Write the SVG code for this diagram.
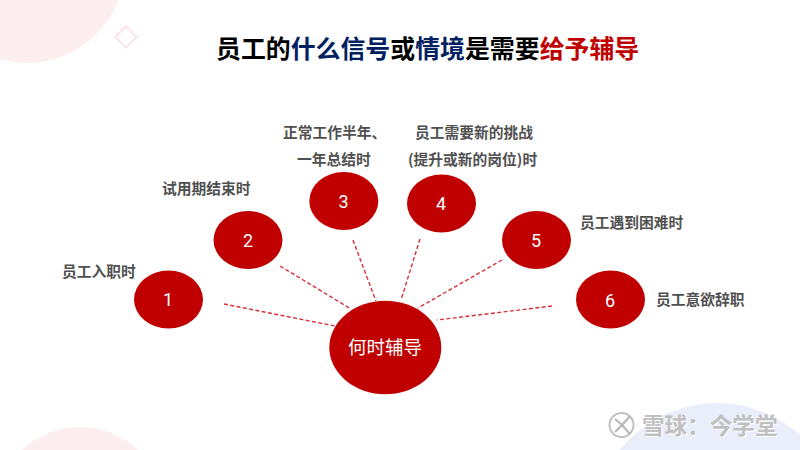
<svg xmlns="http://www.w3.org/2000/svg" width="800" height="450" viewBox="0 0 800 450">
<style>
text{font-family:"Noto Sans CJK SC","Liberation Sans",sans-serif}
.n{fill:#c00000}
.num{fill:#fff;font-family:Roboto,"Liberation Sans",sans-serif;font-size:18px;text-anchor:middle}
.lab{fill:#505050;font-size:14.75px;font-weight:700}
.title{font-size:24.9px;font-weight:700;fill:#000}
.c{stroke:#d8313a;stroke-width:1.4;stroke-dasharray:4 2.4;fill:none}
.wm{font-size:22.6px;font-weight:700;fill:#c0c0c0}
.wms{font-size:22.6px;font-weight:700;fill:#fff}
</style>
<rect width="800" height="450" fill="#fff"/>
<circle cx="27" cy="-35" r="98" fill="#fdeef0"/>
<circle cx="80" cy="512" r="85" fill="#fdeef0"/>
<circle cx="717" cy="527" r="124" fill="#e9eefa"/>
<rect x="118.500" y="29.500" width="15" height="15" transform="rotate(45 126 37)" fill="none" stroke="#fbe3e6" stroke-width="2"/>
<text class="title" x="216" y="58">员工的<tspan fill="#002060">什么信号</tspan>或<tspan fill="#002060">情境</tspan>是需要<tspan fill="#c00000">给予辅导</tspan></text>
<g id="connectors">
<line class="c" x1="224" y1="304" x2="335" y2="326"/>
<line class="c" x1="280" y1="266" x2="351" y2="309"/>
<line class="c" x1="353" y1="240" x2="376" y2="301"/>
<line class="c" x1="420" y1="239" x2="401" y2="300"/>
<line class="c" x1="502" y1="260" x2="418" y2="308"/>
<line class="c" x1="552" y1="306" x2="437" y2="320"/>
</g>
<g id="node1"><ellipse class="n" cx="168.500" cy="299.500" rx="34.500" ry="29"/><text class="num" x="168" y="306">1</text><text class="lab" x="62" y="277">员工入职时</text></g>
<g id="node2"><ellipse class="n" cx="248" cy="240" rx="34.500" ry="29"/><text class="num" x="248" y="247">2</text><text class="lab" x="162" y="194">试用期结束时</text></g>
<g id="node3"><ellipse class="n" cx="343.800" cy="201" rx="34.500" ry="29"/><text class="num" x="343.500" y="208">3</text><text class="lab" x="283" y="138">正常工作半年、</text><text class="lab" x="297" y="165">一年总结时</text></g>
<g id="node4"><ellipse class="n" cx="441.500" cy="203.500" rx="34.500" ry="29"/><text class="num" x="441" y="210">4</text><text class="lab" x="415" y="138">员工需要新的挑战</text><text class="lab" x="408" y="165">(提升或新的岗位)时</text></g>
<g id="node5"><ellipse class="n" cx="536.500" cy="240" rx="34.500" ry="29"/><text class="num" x="536" y="247">5</text><text class="lab" x="580" y="228">员工遇到困难时</text></g>
<g id="node6"><ellipse class="n" cx="610.500" cy="299.500" rx="34.500" ry="29"/><text class="num" x="610" y="307">6</text><text class="lab" x="656" y="305">员工意欲辞职</text></g>
<g id="center"><ellipse class="n" cx="385.300" cy="347.500" rx="56" ry="46.700"/><text x="385" y="354" fill="#fff" font-size="18.500" text-anchor="middle">何时辅导</text></g>
<g id="watermark">
<circle cx="622" cy="426" r="12.500" fill="none" stroke="#fff" stroke-width="2.500"/>
<circle cx="621.500" cy="425" r="12" fill="none" stroke="#c0c0c0" stroke-width="2"/>
<path d="M615 419l7 6-7 7M630 416l-8 9 8 9" fill="none" stroke="#b8b8b8" stroke-width="2.200"/>
<text class="wms" x="642.800" y="435">雪球：今学堂</text>
<text class="wm" x="642" y="434">雪球：今学堂</text>
</g>
</svg>
